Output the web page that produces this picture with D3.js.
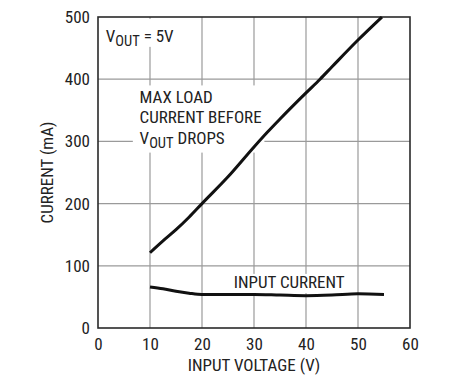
<!DOCTYPE html>
<html>
<head>
<meta charset="utf-8">
<script src="https://cdn.jsdelivr.net/npm/d3@7"></script>
<style>
  body { margin: 0; background: #fff; }
  text { font-family: "Liberation Sans Narrow", "Roboto Condensed", "DejaVu Sans Condensed", sans-serif; fill: #222; }
</style>
</head>
<body>
<div id="chart"></div>
<script>
// values
const xTicks = [0, 10, 20, 30, 40, 50, 60];
const yTicks = [0, 100, 200, 300, 400, 500];

const maxLoadV = [10, 12.5, 15, 17.5, 20, 25, 30, 32.6, 35, 40, 42.7, 45, 50, 54.6];
const maxLoadI = [121, 140, 158, 178, 200, 243, 291, 315, 336, 378, 400, 420, 463, 500];

const inputV = [10, 12.5, 15, 17.5, 20, 25, 30, 35, 40, 45, 50, 55];
const inputI = [66, 63, 59, 56, 54, 54, 54, 53, 52, 53, 55, 54];

const width = 454;
const height = 390;
const margin = {top: 17, right: 44, bottom: 62, left: 98};

const svg = d3.select("#chart")
    .append("svg")
    .attr("width", width)
    .attr("height", height);

const x = d3.scaleLinear().domain([0, 60]).range([margin.left, width - margin.right]);
const y = d3.scaleLinear().domain([0, 500]).range([height - margin.bottom, margin.top]);

// grid
const grid = svg.append("g").attr("stroke", "#9a9a9a").attr("stroke-width", 1.2);
grid.selectAll(".gx")
    .data(xTicks.slice(1, -1))
    .join("line")
    .attr("x1", d => x(d)).attr("x2", d => x(d))
    .attr("y1", y(0)).attr("y2", y(500));
grid.selectAll(".gy")
    .data(yTicks.slice(1, -1))
    .join("line")
    .attr("x1", x(0)).attr("x2", x(60))
    .attr("y1", d => y(d)).attr("y2", d => y(d));

// white boxes behind the labels (they cut the grid)
const boxes = svg.append("g").attr("fill", "#fff");
boxes.append("rect").attr("x", x(0.5)).attr("y", y(497)).attr("width", x(15.5) - x(0.5)).attr("height", y(452) - y(497));
boxes.append("rect").attr("x", x(6.7)).attr("y", y(390)).attr("width", x(32) - x(6.7)).attr("height", y(282) - y(390));
boxes.append("rect").attr("x", x(25.8)).attr("y", y(87)).attr("width", x(47.5) - x(25.8)).attr("height", y(56) - y(87));

// frame
svg.append("rect")
    .attr("x", x(0)).attr("y", y(500))
    .attr("width", x(60) - x(0)).attr("height", y(0) - y(500))
    .attr("fill", "none").attr("stroke", "#2a2a2a").attr("stroke-width", 1.6);

// axes (labels only)
const xAxis = svg.append("g")
    .attr("transform", `translate(0,${y(0)})`)
    .call(d3.axisBottom(x).tickValues(xTicks).tickSize(0).tickPadding(8));
const yAxis = svg.append("g")
    .attr("transform", `translate(${x(0)},0)`)
    .call(d3.axisLeft(y).tickValues(yTicks).tickSize(0).tickPadding(8));
[xAxis, yAxis].forEach(a => {
  a.select(".domain").remove();
  a.selectAll("text").attr("font-size", 17).attr("fill", "#222")
    .attr("font-family", null);
});
xAxis.selectAll("text").attr("dy", "0.85em");

svg.append("text")
    .attr("x", (x(0) + x(60)) / 2).attr("y", 371)
    .attr("text-anchor", "middle").attr("font-size", 17)
    .text("INPUT VOLTAGE (V)");

svg.append("text")
    .attr("transform", `translate(53,${(y(0) + y(500)) / 2}) rotate(-90)`)
    .attr("text-anchor", "middle").attr("font-size", 17)
    .text("CURRENT (mA)");

// curves
const line = d3.line().curve(d3.curveMonotoneX);
svg.append("path")
    .attr("d", line(maxLoadV.map((v, i) => [x(v), y(maxLoadI[i])])))
    .attr("fill", "none").attr("stroke", "#111").attr("stroke-width", 3);
svg.append("path")
    .attr("d", line(inputV.map((v, i) => [x(v), y(inputI[i])])))
    .attr("fill", "none").attr("stroke", "#111").attr("stroke-width", 3);

// annotations
function vout(sel, px, py, rest) {
  const t = sel.append("text").attr("x", px).attr("y", py).attr("font-size", 17);
  t.append("tspan").text("V");
  t.append("tspan").attr("font-size", 14.5).attr("dy", 4).text("OUT");
  t.append("tspan").attr("dy", -4).text(rest);
}
vout(svg, x(1.5), 42, " = 5V");

svg.append("text").attr("x", x(8)).attr("y", 103).attr("font-size", 17).text("MAX LOAD");
svg.append("text").attr("x", x(8)).attr("y", 123).attr("font-size", 17).text("CURRENT BEFORE");
vout(svg, x(8), 143.5, " DROPS");

svg.append("text").attr("x", x(26.1)).attr("y", 288).attr("font-size", 17).text("INPUT CURRENT");
</script>
</body>
</html>
